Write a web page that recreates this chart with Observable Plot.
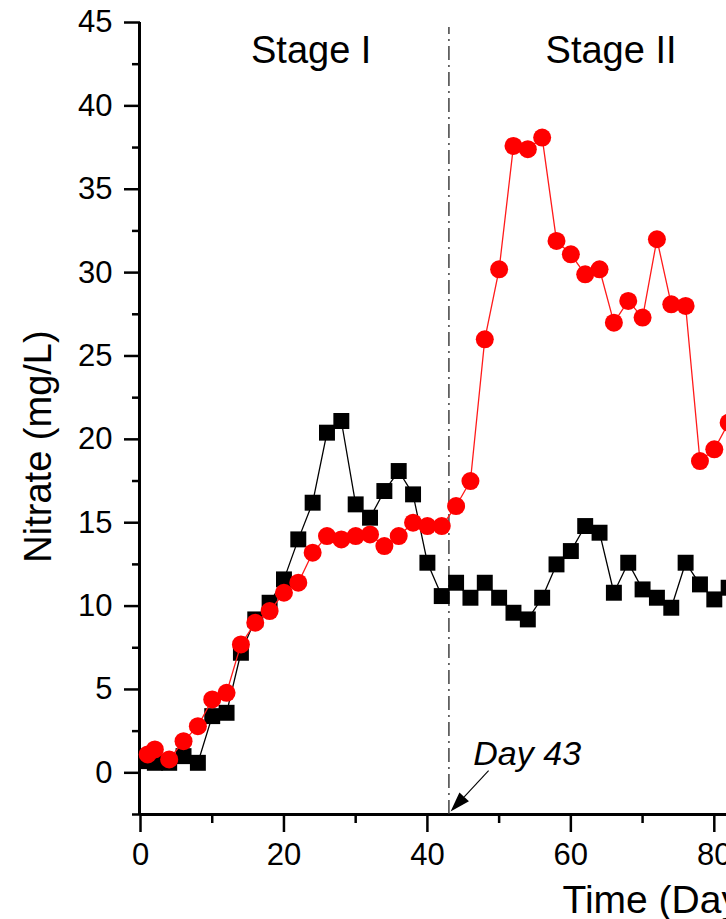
<!DOCTYPE html>
<html>
<head>
<meta charset="utf-8">
<script src="https://cdn.jsdelivr.net/npm/d3@7"></script>
<script src="https://cdn.jsdelivr.net/npm/@observablehq/plot@0.6"></script>
<style>
  html, body { margin: 0; padding: 0; background: white; overflow: hidden; }
  #chart svg { overflow: hidden; display: block; }
</style>
</head>
<body>
<div id="chart"></div>
<script>
// ---- data ----
const days = [1, 2, 4, 6, 8, 10, 12, 14, 16, 18, 20, 22, 24, 26, 28, 30, 32, 34, 36, 38, 40,
  42, 44, 46, 48, 50, 52, 54, 56, 58, 60, 62, 64, 66, 68, 70, 72, 74, 76, 78, 80, 82];
const nitrateBlack = [0.7, 0.6, 0.6, 1.0, 0.6, 3.4, 3.6, 7.2, 9.2, 10.2, 11.6, 14.0, 16.2, 20.4, 21.1,
  16.1, 15.3, 16.9, 18.1, 16.7, 12.6, 10.6, 11.4, 10.5, 11.4, 10.5, 9.6, 9.2, 10.5, 12.5, 13.3,
  14.8, 14.4, 10.8, 12.6, 11.0, 10.5, 9.9, 12.6, 11.3, 10.4, 11.1];
const nitrateRed = [1.1, 1.4, 0.8, 1.9, 2.8, 4.4, 4.8, 7.7, 9.0, 9.7, 10.8, 11.4, 13.2, 14.2, 14.0,
  14.2, 14.3, 13.6, 14.2, 15.0, 14.8, 14.8, 16.0, 17.5, 26.0, 30.2, 37.6, 37.4, 38.1, 31.9, 31.1,
  29.9, 30.2, 27.0, 28.3, 27.3, 32.0, 28.1, 28.0, 18.7, 19.4, 21.0];
const yMajorTicks = [0, 5, 10, 15, 20, 25, 30, 35, 40, 45];
const yMinorTicks = [-2.5, 2.5, 7.5, 12.5, 17.5, 22.5, 27.5, 32.5, 37.5, 42.5];
const xMajorTicks = [0, 20, 40, 60, 80];
const xMinorTicks = [10, 30, 50, 70];
const stageLabels = ["Stage I", "Stage II"];
const stageCenters = [23.8, 65.6];
const stageDay = 43;
const dayLabel = "Day 43";
const xLabel = "Time (Days)";
const yLabel = "Nitrate (mg/L)";
const arrowFrom = {x: 48.6, y: 0.1};
const arrowTo = {x: 43.3, y: -2.35};

const rows = days.map((d, i) => ({day: d, black: nitrateBlack[i], red: nitrateRed[i]}));
const stages = stageLabels.map((s, i) => ({label: s, x: stageCenters[i]}));

const FONT = "'Liberation Sans', Arial, Helvetica, sans-serif";
const xMax = 81.7;

const arrowMark = (index, scales) => {
  const x1 = scales.x(arrowFrom.x), y1 = scales.y(arrowFrom.y);
  const x2 = scales.x(arrowTo.x), y2 = scales.y(arrowTo.y);
  const ang = Math.atan2(y2 - y1, x2 - x1);
  const L = 20, W = 6.5;
  const bx = x2 - L * Math.cos(ang), by = y2 - L * Math.sin(ang);
  const px = -Math.sin(ang) * W, py = Math.cos(ang) * W;
  const g = d3.create("svg:g");
  g.append("line").attr("x1", x1).attr("y1", y1).attr("x2", bx).attr("y2", by)
    .attr("stroke", "black").attr("stroke-width", 1.1);
  g.append("path").attr("d", `M${x2},${y2}L${bx + px},${by + py}L${bx - px},${by - py}Z`)
    .attr("fill", "black");
  return g.node();
};

const chart = Plot.plot({
  width: 726,
  height: 919,
  marginLeft: 140,
  marginRight: 0,
  marginTop: 22,
  marginBottom: 105,
  style: {fontFamily: FONT, background: "white", color: "black"},
  x: {domain: [0, xMax]},
  y: {domain: [-2.5, 45]},
  marks: [
    // axes
    Plot.axisY({ticks: yMinorTicks, tickSize: 8, tickFormat: () => "", strokeWidth: 2.5, label: null}),
    Plot.axisY({ticks: yMajorTicks, tickSize: 16, tickPadding: 12, fontSize: 31, strokeWidth: 2.5, label: null}),
    Plot.axisX({ticks: xMinorTicks, tickSize: 9, tickFormat: () => "", strokeWidth: 2.5, label: null}),
    Plot.axisX({ticks: xMajorTicks, tickSize: 18, tickPadding: 10, fontSize: 31, strokeWidth: 2.5, label: null}),
    Plot.ruleX([0], {y1: -2.5, y2: 45, strokeWidth: 3, dx: -1}),
    Plot.ruleY([-2.5], {x1: 0, x2: xMax, strokeWidth: 3}),
    // stage divider
    Plot.ruleX([stageDay], {y1: -2.5, y2: 44.7, stroke: "#333", strokeWidth: 1.4, strokeDasharray: "14,5,2,5"}),
    // series
    Plot.line(rows, {x: "day", y: "black", stroke: "black", strokeWidth: 1.3}),
    Plot.dot(rows, {x: "day", y: "black", symbol: "square", r: 9, fill: "black"}),
    Plot.line(rows, {x: "day", y: "red", stroke: "#ff1a1a", strokeWidth: 1.3}),
    Plot.dot(rows, {x: "day", y: "red", r: 9, fill: "#ff0000"}),
    // annotations
    Plot.text(stages, {x: "x", y: 42.6, text: "label", fontSize: 38, lineAnchor: "bottom", fill: "black"}),
    Plot.text([dayLabel], {x: 46.4, y: 0.44, text: d => d, fontSize: 34, fontStyle: "italic", textAnchor: "start", lineAnchor: "bottom", fill: "black"}),
    arrowMark,
    Plot.text([xLabel], {frameAnchor: "bottom-left", dx: 422, dy: 98, text: d => d, fontSize: 39, textAnchor: "start", lineAnchor: "bottom", fill: "black"}),
    Plot.text([yLabel], {frameAnchor: "left", dx: -102, dy: 28, rotate: -90, text: d => d, fontSize: 38, textAnchor: "middle", lineAnchor: "middle", fill: "black"})
  ]
});

document.getElementById("chart").appendChild(chart);
</script>
</body>
</html>
